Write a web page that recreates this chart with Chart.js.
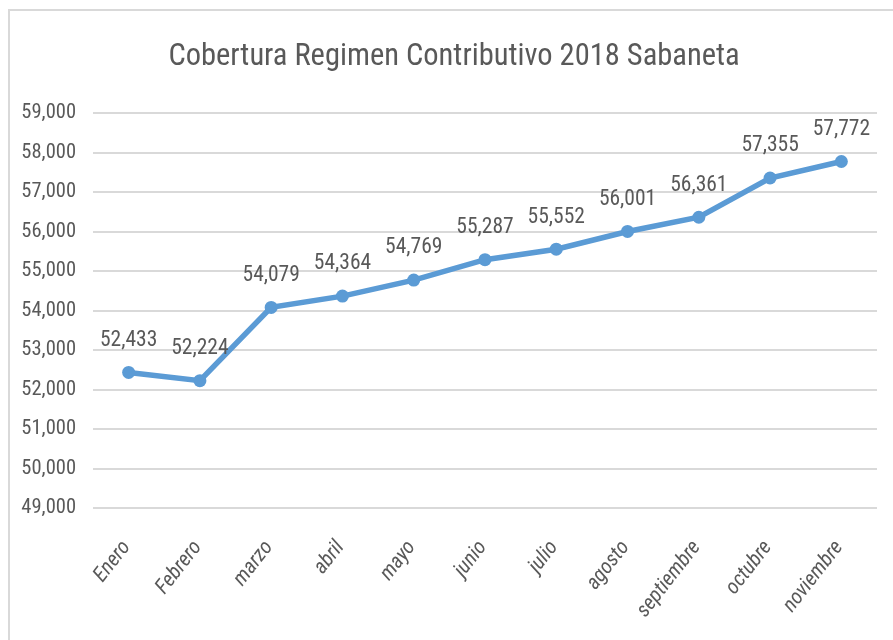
<!DOCTYPE html>
<html>
<head>
<meta charset="utf-8">
<script src="https://cdn.jsdelivr.net/npm/chart.js@4.4.0/dist/chart.umd.min.js"></script>
<style>
  html, body { margin: 0; padding: 0; background: #ffffff; }
  #frame { position: absolute; left: 8px; top: 9px; width: 885px; height: 631px;
           border-left: 2px solid #d9d9d9; border-top: 2px solid #d9d9d9; box-sizing: border-box; }
  #wrap { position: absolute; left: 0; top: 0; width: 893px; height: 640px; }
</style>
</head>
<body>
<div id="frame"></div>
<div id="wrap"><canvas id="c" width="893" height="640"></canvas></div>
<script>
const titleText = 'Cobertura Regimen Contributivo 2018 Sabaneta';
const months = ['Enero', 'Febrero', 'marzo', 'abril', 'mayo', 'junio', 'julio', 'agosto', 'septiembre', 'octubre', 'noviembre'];
const coverage = [52433, 52224, 54079, 54364, 54769, 55287, 55552, 56001, 56361, 57355, 57772];
const yMin = 49000;
const yMax = 59000;
const yStep = 1000;

const FONT = "Roboto, 'Liberation Sans', sans-serif";
const STRETCH = 'condensed';
const GRAY = '#595959';

const fmt = v => v.toLocaleString('en-US');

// Title drawn centred on the chart frame (the frame begins a little right of the canvas edge)
const frameTitle = {
  id: 'frameTitle',
  afterDraw(chart, args, opts) {
    const ctx = chart.ctx;
    ctx.save();
    ctx.font = STRETCH + ' 30.5px ' + FONT;
    ctx.fillStyle = GRAY;
    ctx.textAlign = 'center';
    ctx.textBaseline = 'middle';
    ctx.fillText(opts.text, opts.centerX, opts.centerY);
    ctx.restore();
  }
};

const valueLabels = {
  id: 'valueLabels',
  afterDatasetsDraw(chart) {
    const ctx = chart.ctx;
    const meta = chart.getDatasetMeta(0);
    ctx.save();
    ctx.font = STRETCH + ' 21.5px ' + FONT;
    ctx.fillStyle = GRAY;
    ctx.textAlign = 'center';
    ctx.textBaseline = 'middle';
    meta.data.forEach((pt, i) => {
      ctx.fillText(fmt(chart.data.datasets[0].data[i]), pt.x, pt.y - 32);
    });
    ctx.restore();
  }
};

new Chart(document.getElementById('c'), {
  type: 'line',
  data: {
    labels: months,
    datasets: [{
      data: coverage,
      borderColor: '#5B9BD5',
      backgroundColor: '#5B9BD5',
      borderWidth: 5.5,
      pointRadius: 6.5,
      pointHoverRadius: 6.5,
      pointBackgroundColor: '#5B9BD5',
      pointBorderWidth: 0,
      tension: 0,
      fill: false
    }]
  },
  options: {
    responsive: false,
    animation: false,
    devicePixelRatio: 1,
    layout: { padding: { left: 0, right: 16, top: 113, bottom: 0 } },
    plugins: {
      legend: { display: false },
      tooltip: { enabled: false },
      title: { display: false },
      frameTitle: { text: titleText, centerX: 454, centerY: 57 }
    },
    scales: {
      x: {
        offset: true,
        grid: { display: false, drawTicks: false },
        border: { display: false },
        ticks: {
          color: GRAY,
          font: { family: FONT, size: 21, style: 'italic', weight: STRETCH },
          minRotation: 52,
          maxRotation: 52,
          padding: 28,
          labelOffset: -2,
          autoSkip: false
        },
        afterFit(scale) { scale.height = 132; }
      },
      y: {
        min: yMin,
        max: yMax,
        grid: { color: '#d9d9d9', lineWidth: 2, drawTicks: false },
        border: { display: false },
        ticks: {
          stepSize: yStep,
          color: GRAY,
          font: { family: FONT, size: 20.5, weight: STRETCH },
          padding: 17,
          callback: v => fmt(v)
        },
        afterFit(scale) { scale.width = 93; }
      }
    }
  },
  plugins: [frameTitle, valueLabels]
});
</script>
</body>
</html>
